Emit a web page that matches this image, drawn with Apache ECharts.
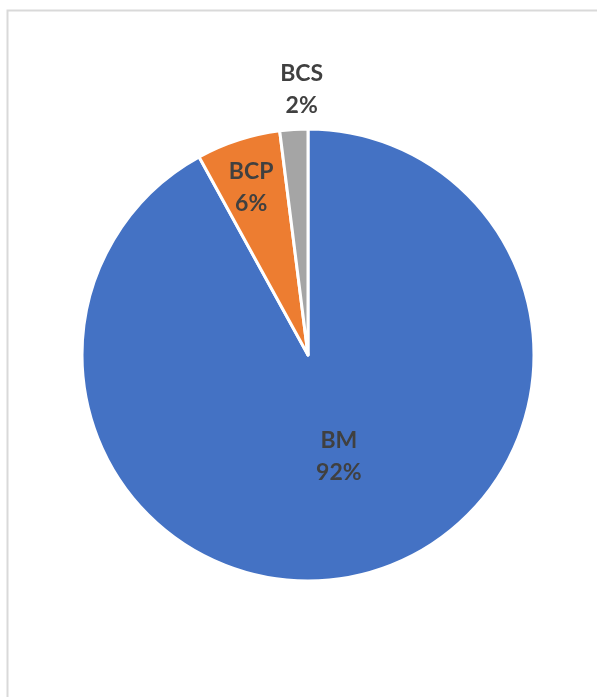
<!DOCTYPE html>
<html>
<head>
<meta charset="utf-8">
<script src="https://cdn.jsdelivr.net/npm/echarts@6/dist/echarts.min.js"></script>
<style>
  html, body { margin: 0; padding: 0; background: #ffffff; }
  #chart { width: 597px; height: 697px; }
</style>
</head>
<body>
<div id="chart"></div>
<script>
// Share of each category (percent)
const categories = ['BM', 'BCP', 'BCS'];
const shares = [92, 6, 2];
const sliceColors = ['#4472C4', '#ED7D31', '#A5A5A5'];
// Per-slice label nudges from the default inside position
const labelOffsets = [[2, -11], [-21, -57], [1, -150]];

const chart = echarts.init(document.getElementById('chart'), null, { renderer: 'canvas' });

const data = categories.map((name, i) => ({
  name: name,
  value: shares[i],
  itemStyle: { color: sliceColors[i] },
  label: { offset: labelOffsets[i] }
}));

chart.setOption({
  animation: false,
  backgroundColor: '#ffffff',
  graphic: [
    {
      type: 'polyline',
      shape: { points: [[7.5, 697], [7.5, 10.5], [597, 10.5]] },
      style: { stroke: '#d9d9d9', lineWidth: 2, fill: null },
      silent: true
    }
  ],
  series: [
    {
      type: 'pie',
      center: [308, 355],
      radius: [0, 226],
      startAngle: 90,
      clockwise: true,
      avoidLabelOverlap: false,
      silent: true,
      itemStyle: { borderColor: '#ffffff', borderWidth: 3 },
      label: {
        show: true,
        position: 'inside',
        formatter: '{b}\n{c}%',
        fontFamily: 'Lato',
        fontWeight: 'bold',
        fontSize: 23,
        lineHeight: 32,
        color: '#404040'
      },
      labelLine: { show: false },
      emphasis: { disabled: true },
      data: data
    }
  ]
});
</script>
</body>
</html>
